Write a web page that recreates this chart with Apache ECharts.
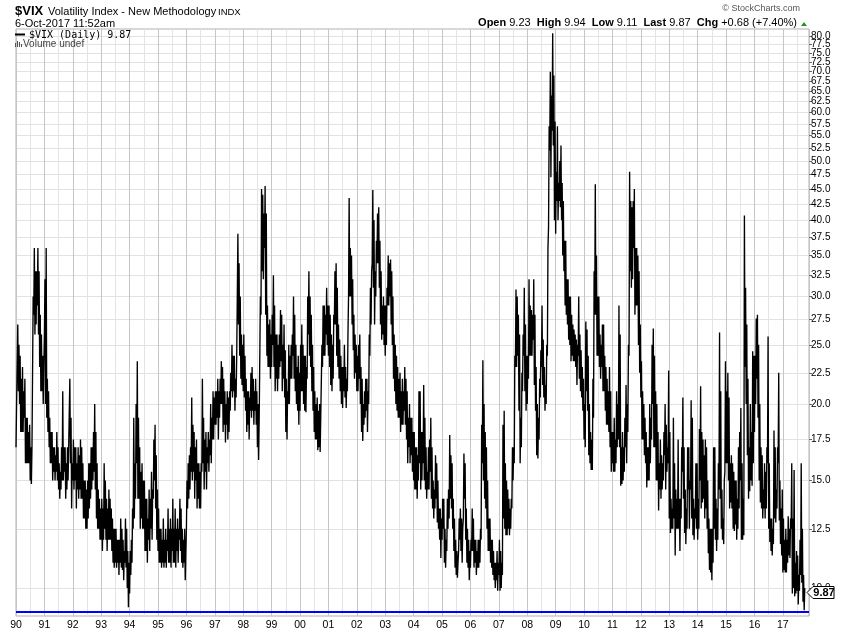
<!DOCTYPE html>
<html><head><meta charset="utf-8">
<script src="https://cdn.jsdelivr.net/npm/echarts@6/dist/echarts.min.js"></script>
<style>html,body{margin:0;padding:0;background:#fff}#c{width:850px;height:633px}</style>
</head><body><div id="c"></div>
<script>
const years = [1990,1991,1992,1993,1994,1995,1996,1997,1998,1999,2000,2001,2002,2003,2004,2005,2006,2007,2008,2009,2010,2011,2012,2013,2014,2015,2016,2017];
const hi1990 = [20, 27, 25, 24, 22, 23, 21, 22, 19, 19, 18, 18.5, 17, 17, 30, 36, 33, 33, 36, 33, 28, 26, 24, 23];
const lo1990 = [17, 20, 21, 20, 18, 18, 18, 19, 16, 16, 16, 16, 15, 14.8, 17, 28, 26, 27, 29, 26, 23, 21, 21, 20];
const hi1991 = [32, 36, 22, 21, 19, 18, 18, 17, 17, 16.5, 18, 17, 16, 15.5, 17, 21, 17, 17, 16, 17, 17, 22, 19, 16];
const lo1991 = [26, 20, 19, 18, 17, 16, 16, 15, 15.5, 15, 15.5, 15, 14.5, 14, 14.5, 15, 15, 15.5, 14, 14.5, 15, 17, 16, 13.5];
const hi1992 = [17.5, 17, 17, 16, 17, 16.5, 17.5, 17, 16, 15, 15, 14.5, 15, 16, 16, 17, 17, 18, 20, 18, 16, 14.5, 14, 13.5];
const lo1992 = [15, 14.5, 15, 13.5, 14.5, 14, 14.5, 14, 14, 13, 13, 12.5, 12.5, 13, 13.5, 14, 14.5, 15, 15.5, 14.5, 13, 12.5, 12.5, 12];
const hi1993 = [14, 13.5, 16, 15, 14, 13.5, 14.5, 14, 13.5, 13, 12.5, 12.5, 12.5, 12, 12, 12, 13, 12.5, 12, 11.5, 13, 12.5, 11.5, 11];
const lo1993 = [12, 11.5, 12, 12.5, 12, 11.5, 12, 12, 12, 11.5, 11, 10.8, 11, 10.8, 11, 10.5, 11, 10.8, 10.7, 10.3, 11, 10.8, 10, 9.3];
const hi1994 = [11.5, 12, 13.5, 19, 16, 20, 23.5, 19, 17, 15.5, 16, 15, 15, 14, 14, 13, 14.5, 14, 15.5, 14.5, 17.5, 18.5, 16.5, 14.5];
const lo1994 = [9.8, 10.5, 11, 12.5, 13, 14, 16, 14, 14, 12.5, 13, 12.5, 12.5, 11.5, 11.5, 11, 12, 11.5, 12.5, 12, 14, 15, 13.5, 12];
const hi1995 = [13.5, 12.5, 12.5, 12, 13, 12, 12.5, 12, 13.5, 12.5, 13, 12.5, 14, 12.5, 13.5, 12.5, 13, 12.5, 14, 13.5, 12.5, 12, 12.5, 11.5];
const lo1995 = [11.5, 11, 11, 10.8, 11, 10.8, 11, 10.8, 11.5, 11, 11, 10.8, 11.5, 11, 11, 10.8, 11.5, 11, 12, 11.5, 11, 10.8, 11, 10.3];
const hi1996 = [15, 16, 16.5, 17, 20.5, 18.5, 18, 17, 17.5, 16, 16, 15.5, 16, 22, 19, 17.5, 18, 17, 18, 17.5, 20, 19, 21, 20.5];
const lo1996 = [12.5, 13.5, 14, 14.5, 15.5, 15, 15.5, 14, 15, 13.5, 14, 13.5, 13.5, 15.5, 16, 14.5, 15.5, 14.5, 16, 15.5, 16.5, 16, 17.5, 17.5];
const hi1997 = [21, 21, 22, 21, 22, 23.5, 23, 22, 21, 20, 21, 20.5, 21, 22.5, 25, 24, 24, 22, 24, 38, 34, 30, 26, 25];
const lo1997 = [18.5, 18.5, 19, 17.5, 19, 20, 20, 18, 18.5, 17.3, 18.5, 17.5, 18, 19.5, 21, 20.5, 21, 19.5, 20.5, 24, 27, 24, 22, 21.5];
const hi1998 = [26, 24, 22, 21, 21, 20.5, 22.5, 23, 22, 21, 22, 21, 20, 19, 30, 45, 44, 41, 45.5, 41, 29, 27, 27.5, 26];
const lo1998 = [21, 20.5, 19.5, 18, 18.5, 17.5, 19.5, 19, 19.5, 18.5, 19.5, 18.5, 17, 16.2, 19, 28, 33, 32, 36, 28, 24, 23, 23, 22];
const hi1999 = [28, 32.5, 29, 26, 26, 25, 26, 28.5, 28, 25, 27, 24.5, 22, 21, 25, 24, 25, 26, 30, 28, 25, 23, 24, 22.5];
const lo1999 = [23, 25, 23, 21, 22, 21, 22, 23, 23.5, 21, 22, 20.5, 18, 17.5, 20, 20, 22, 22, 24, 22, 21, 20, 19.5, 18.5];
const hi2000 = [25, 27, 25, 24, 24, 23, 30, 33, 30, 28, 25, 23, 21, 20, 20.5, 19.5, 20, 19, 25, 29, 29, 28, 31, 29];
const lo2000 = [19.5, 21, 21, 20, 19.5, 19.4, 22, 26, 24, 23, 21, 19.5, 18, 17.5, 17.5, 16.8, 17, 16.7, 19, 23, 24, 24, 26, 25];
const hi2001 = [29, 28, 26, 25, 28, 33, 34, 31, 27, 25.5, 24, 23, 23, 25, 23, 22, 26, 43.5, 36, 35, 32, 28, 26, 25];
const lo2001 = [24, 23, 21.5, 21, 22, 27, 27, 24, 23, 22, 21, 20, 19.7, 21, 20.5, 19.7, 21, 30, 30, 30, 27, 24.5, 22, 22.5];
const hi2002 = [24, 25, 26, 23, 22, 20, 21, 22, 22, 21, 26, 31, 33, 44.8, 40, 33, 37, 41, 42, 37, 33, 29, 30, 29];
const lo2002 = [21, 21, 22, 20, 18, 17.4, 18.5, 19, 19.5, 18, 20, 24, 27, 34, 31, 27, 30, 34, 34, 31, 27, 25.5, 26, 25];
const hi2003 = [29, 31, 35, 34, 34.5, 33, 30, 26, 25, 24, 23, 22, 22.5, 21, 22, 21, 23, 22, 21, 19, 20, 19, 19, 18];
const lo2003 = [24, 25, 29, 29, 30, 27, 25, 22, 21, 20, 19.5, 19, 19, 18, 18.5, 18.5, 19.5, 18.5, 17.5, 16, 17, 16, 16.5, 15.5];
const hi2004 = [18, 17, 17, 16.5, 21, 21, 18, 18, 21.5, 19, 17, 15.5, 17, 17.5, 19, 17, 15, 14.5, 16.5, 16, 15, 13.5, 13.5, 13];
const lo2004 = [15, 14.5, 14.5, 14, 15, 16, 14.5, 15, 16, 15, 14.5, 14, 14.5, 14.5, 15.5, 14, 13.5, 13, 13.5, 14, 12.8, 12.5, 12, 11.2];
const hi2005 = [14, 14, 12.5, 12, 14, 14.5, 17.8, 16.5, 16, 14, 13, 12, 11.5, 11, 13, 13.5, 13, 12.5, 16.6, 16, 13.5, 12.5, 12, 11.5];
const lo2005 = [12, 12.5, 11, 10.8, 11.5, 12.5, 13, 14, 13.5, 12.5, 11.5, 10.8, 10.5, 10.4, 11.5, 12, 11.5, 11, 13, 14, 12, 11, 10.8, 10.3];
const hi2006 = [12, 13.5, 13, 12, 12, 11.5, 12, 12, 12.5, 18.5, 23.6, 20, 18, 17, 15, 13, 13, 12, 12, 11.5, 11, 11, 11.5, 11];
const lo2006 = [10.8, 11.5, 11.5, 10.8, 11, 10.5, 10.8, 10.8, 11, 12, 16, 15, 14, 13.5, 12.5, 11.5, 11.5, 11, 10.8, 10.5, 10.3, 10, 10.3, 9.9];
const hi2007 = [12, 11.5, 11, 18.5, 19.5, 16, 15, 14.5, 14, 13.5, 14, 17, 17, 24, 30.8, 30, 28, 26, 19, 22.5, 26, 31, 27, 24];
const lo2007 = [10.5, 9.9, 10, 10.5, 13, 12.5, 12.2, 12.2, 12.5, 12.2, 12.5, 13.5, 15, 16, 23, 23, 24, 19.5, 16, 17, 21, 24, 21, 19.5];
const hi2008 = [24, 32, 29, 28.5, 28, 32, 28, 23, 20, 19, 22, 24.5, 29, 25.5, 23, 21.5, 25, 36, 57, 70, 64, 80.9, 69, 58];
const lo2008 = [20, 22, 24, 24, 24, 25.5, 21.5, 19.5, 16.5, 16.3, 17.5, 20.5, 23, 21.5, 20.5, 19.5, 20, 24, 39, 52, 47, 56, 53, 40];
const hi2009 = [48, 57, 46, 50, 53, 46, 43, 37, 37, 32, 32, 30, 30, 28, 27, 26.5, 26, 25.5, 25, 30, 26, 24.5, 23, 22];
const lo2009 = [38, 43, 40, 43, 42, 40, 35, 33, 29, 28, 27, 25.5, 25, 23.5, 24, 23.5, 23.5, 23, 21.5, 24, 22, 21, 20.5, 19.5];
const hi2010 = [20, 27.3, 26.5, 24, 20, 18, 17.5, 22, 33, 45.8, 35, 30, 30, 26, 25, 27, 27, 24, 23, 22, 21, 23, 21, 18];
const lo2010 = [17.5, 17, 21, 19.5, 16.5, 16, 15.6, 15.6, 19, 28, 28, 24, 24, 23, 22, 23, 21, 21, 19.5, 18.5, 18.5, 18, 17, 15.5];
const hi2011 = [18, 19, 17.5, 21, 20, 29, 26, 17, 18, 17, 19, 21.5, 20, 25, 48, 43, 42, 43, 45, 36, 36, 35, 33, 27];
const lo2011 = [16, 15.5, 15.5, 16, 17, 17.5, 17, 14.7, 14.8, 15, 15.5, 17, 16, 18, 24, 33, 31, 32, 36, 28, 29, 29, 25, 22.5];
const hi2012 = [23.5, 21, 20, 19, 18, 17, 17, 20, 19, 25, 26.6, 24, 21, 20, 18, 16, 17.5, 16.5, 16, 18, 20, 18.5, 17, 22.7];
const lo2012 = [20.5, 17.5, 17.5, 16.5, 16, 14.6, 15, 15, 16, 17.5, 20, 17, 17, 15, 15, 13.4, 14.5, 14, 14.5, 15, 16.5, 14.5, 15.5, 16];
const hi2013 = [18, 14, 13.5, 19, 16, 14.5, 14, 17.5, 14, 14, 17, 20.5, 17, 14.5, 13.5, 17, 17, 15, 20.3, 19, 14, 13.5, 16, 16];
const lo2013 = [13, 12.3, 12.5, 12.5, 13, 11.3, 12.5, 12.5, 12.5, 11.5, 13, 15.5, 14, 12.3, 11.8, 12.5, 14.5, 12.5, 14.5, 13, 12.2, 12, 13, 12.5];
const hi2014 = [14, 18.2, 21.4, 18, 17.5, 16.5, 17.5, 17, 15, 13, 12.5, 12.5, 12.5, 17, 17, 14, 13.5, 16, 26.2, 21, 14.5, 13, 15, 23.5];
const lo2014 = [12, 12.5, 15, 13.5, 13.8, 14, 13, 13.5, 12.5, 11.4, 10.7, 10.6, 10.3, 11, 12.5, 12, 11.5, 12, 14.5, 14, 12.5, 12, 11.8, 15.5];
const hi2015 = [21, 22.5, 20.5, 16, 16.5, 16, 15.5, 15, 15, 14, 17, 18, 19.7, 16, 14, 40.7, 31, 27, 22, 17, 20, 18, 24.4, 24];
const lo2015 = [16, 16, 15, 13.5, 13.8, 13.5, 12.5, 12.4, 12.7, 12, 12.5, 13.5, 15, 12, 12, 12.2, 23, 20, 16.5, 14, 14.4, 15, 14.7, 16];
const hi2016 = [24, 27.6, 28, 25, 20, 17, 16.5, 14.5, 16, 15.5, 17, 25.8, 16, 13, 13, 12.5, 18.1, 17, 14.5, 17, 22.5, 15, 13.5, 14.5];
const lo2016 = [18, 20, 22, 19, 15, 13.8, 13.5, 13, 13.5, 13, 13.5, 16, 12.5, 11.9, 11.5, 11.3, 11.8, 13, 12.8, 13.5, 16, 12.9, 11.8, 11.3];
const hi2017 = [13, 12, 12.5, 12, 13.1, 12.5, 13, 16, 13, 15.6, 11, 11.5, 11.3, 10.5, 12, 16, 12.5, 10.5, 10];
const lo2017 = [10.6, 10.7, 10.6, 10.6, 11, 11.3, 11.2, 12.5, 9.8, 10, 9.7, 9.8, 9.9, 9.4, 9.9, 10.5, 10.2, 9.5, 9.2];
const lastDate = 2017.765, lastValue = 9.87;   // 6-Oct-2017
const yTicks = [10,12.5,15,17.5,20,22.5,25,27.5,30,32.5,35,37.5,40,42.5,45,47.5,50,52.5,55,57.5,60,62.5,65,67.5,70,72.5,75,77.5,80];
const quoteOpen = 9.23, quoteHigh = 9.94, quoteLow = 9.11, quoteLast = 9.87, quoteChg = '+0.68', quotePct = '+7.40%';

const highs = [hi1990,hi1991,hi1992,hi1993,hi1994,hi1995,hi1996,hi1997,hi1998,hi1999,hi2000,hi2001,hi2002,hi2003,hi2004,hi2005,hi2006,hi2007,hi2008,hi2009,hi2010,hi2011,hi2012,hi2013,hi2014,hi2015,hi2016,hi2017];
const lows  = [lo1990,lo1991,lo1992,lo1993,lo1994,lo1995,lo1996,lo1997,lo1998,lo1999,lo2000,lo2001,lo2002,lo2003,lo2004,lo2005,lo2006,lo2007,lo2008,lo2009,lo2010,lo2011,lo2012,lo2013,lo2014,lo2015,lo2016,lo2017];
const data = [];
years.forEach((y, i) => {
  highs[i].forEach((h, k) => {
    const t = y + k / 24;
    data.push([t, lows[i][k]]);
    data.push([t + 1 / 48, h]);
  });
});
data.push([lastDate, lastValue]);

// label order: keep the two crowded top labels away from the ends of the list so none gets dropped
const labelOrder = [yTicks[yTicks.length - 2]].concat(yTicks.slice(1, yTicks.length - 2), [yTicks[yTicks.length - 1], yTicks[0]]);

const FF = '"Liberation Sans", Arial, sans-serif';
const chart = echarts.init(document.getElementById('c'), null, {renderer: 'canvas'});
const GL = 16, GR = 41, GT = 29, GB = 17;
chart.setOption({
  animation: false,
  backgroundColor: '#fff',
  grid: {left: GL, right: GR, top: GT, bottom: GB, show: true, borderColor: '#b0b0b0', borderWidth: 1},
  xAxis: {
    type: 'value', min: 1990, max: 2017.92, interval: 1,
    axisLine: {show: false}, axisTick: {show: false},
    axisLabel: {
      color: '#000', fontSize: 10.5, fontFamily: FF, margin: 4, showMaxLabel: false,
      formatter: v => Math.abs(v - Math.round(v)) < 1e-6 ? String(Math.round(v) % 100).padStart(2, '0') : ''
    },
    splitLine: {show: true, lineStyle: {color: '#c6c6c6', width: 1}},
    minorTick: {show: false, splitNumber: 2},
    minorSplitLine: {show: true, lineStyle: {color: '#e4e4e4', width: 1}}
  },
  yAxis: [{
    type: 'log', logBase: 10, min: 9.0, max: 82.2, position: 'right',
    axisLine: {show: false},
    axisTick: {show: true, length: 3, customValues: yTicks, lineStyle: {color: '#666'}},
    axisLabel: {customValues: labelOrder, formatter: v => Number(v).toFixed(1), margin: 2,
                color: '#000', fontSize: 10, fontFamily: FF, hideOverlap: false},
    splitLine: {show: true, lineStyle: {color: '#e2e2e2', width: 1}}
  }, {
    type: 'value', min: -0.0069, max: 1, show: false
  }],
  series: [{
    name: '$VIX', type: 'line', data: data, showSymbol: false, symbol: 'none',
    lineStyle: {color: '#000', width: 1.35}, z: 3
  }, {
    name: 'Volume', type: 'line', yAxisIndex: 1, showSymbol: false, symbol: 'none',
    data: [[1990, 0], [2017.92, 0]], lineStyle: {color: '#0000ff', width: 2}, z: 2
  }]
});

const p = chart.convertToPixel({xAxisIndex: 0, yAxisIndex: 0}, [lastDate, lastValue]);
const rightX = 850 - GR;
const py = Math.round(p[1]) + 0.5;
const graphics = [
  {type: 'text', x: 15, y: 11.5, style: {text: '$VIX', font: 'bold 13px ' + FF, fill: '#000', verticalAlign: 'middle'}},
  {type: 'text', x: 48, y: 11.5, style: {text: 'Volatility Index - New Methodology', font: '11px ' + FF, fill: '#000', verticalAlign: 'middle'}},
  {type: 'text', x: 218, y: 12, style: {text: 'INDX', font: '9.5px ' + FF, fill: '#000', verticalAlign: 'middle'}},
  {type: 'text', x: 15, y: 23.5, style: {text: '6-Oct-2017 11:52am', font: '11px ' + FF, fill: '#000', verticalAlign: 'middle'}},
  {type: 'text', x: 800, y: 8.5, style: {text: '\u00A9 StockCharts.com', font: '9px ' + FF, fill: '#555', align: 'right', verticalAlign: 'middle'}},
  {type: 'text', x: 797, y: 23, style: {
    text: '{b|Open} ' + quoteOpen.toFixed(2) + '  {b|High} ' + quoteHigh.toFixed(2) + '  {b|Low} ' + quoteLow.toFixed(2) + '  {b|Last} ' + quoteLast.toFixed(2) + '  {b|Chg} ' + quoteChg + ' (' + quotePct + ')',
    font: '11px ' + FF, fill: '#000', align: 'right', verticalAlign: 'middle',
    rich: {b: {fontWeight: 'bold', fontSize: 11, fontFamily: FF}}
  }},
  {type: 'polygon', shape: {points: [[801, 26], [807, 26], [804, 22]]}, style: {fill: '#1e9a1e'}},
  // legend in plot
  {type: 'rect', shape: {x: 15, y: 33.5, width: 10, height: 2}, style: {fill: '#000'}, z: 10},
  {type: 'text', x: 29, y: 35, style: {text: '$VIX (Daily) 9.87', font: '10px "DejaVu Sans Mono", monospace', fill: '#000', verticalAlign: 'middle'}, z: 10},
  {type: 'rect', shape: {x: 15, y: 43, width: 1, height: 4}, style: {fill: '#555'}, z: 10},
  {type: 'rect', shape: {x: 17, y: 41, width: 1, height: 6}, style: {fill: '#555'}, z: 10},
  {type: 'rect', shape: {x: 19, y: 42, width: 1, height: 5}, style: {fill: '#555'}, z: 10},
  {type: 'rect', shape: {x: 21, y: 44, width: 1, height: 3}, style: {fill: '#555'}, z: 10},
  {type: 'text', x: 23, y: 44, style: {text: 'Volume undef', font: '10px ' + FF, fill: '#444', verticalAlign: 'middle'}, z: 10},
  // last value marker
  {type: 'polygon', shape: {points: [[rightX - 2, py], [rightX + 4, py - 6], [rightX + 25, py - 6], [rightX + 25, py + 6], [rightX + 4, py + 6]]},
   style: {fill: '#fff', stroke: '#000', lineWidth: 1}, z: 20},
  {type: 'text', x: rightX + 15, y: py + 0.5, style: {text: lastValue.toFixed(2), font: 'bold 11px ' + FF, fill: '#000', align: 'center', verticalAlign: 'middle'}, z: 21}
];
chart.setOption({graphic: graphics});
</script>
</body></html>
